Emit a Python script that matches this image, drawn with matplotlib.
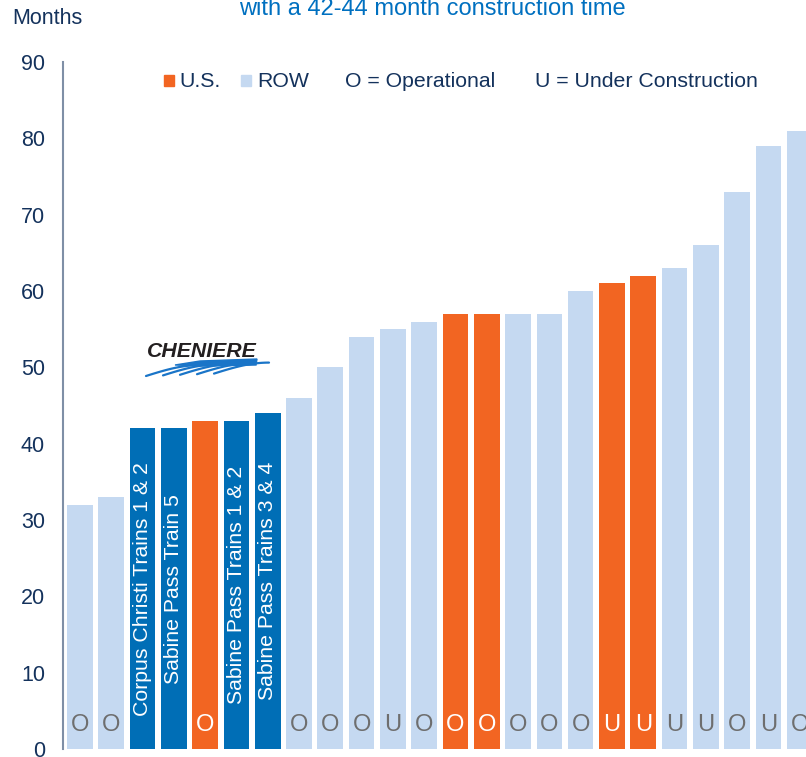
import numpy as np
import matplotlib
matplotlib.use("Agg")
import matplotlib.pyplot as plt
from matplotlib.patches import Rectangle, Polygon

plt.rcParams['font.family'] = ['Liberation Sans', 'DejaVu Sans']

# construction time in months, sorted ascending
months = [32, 33, 42, 42, 43, 43, 44, 46, 50, 54, 55, 56,
          57, 57, 57, 57, 60, 61, 62, 63, 66, 73, 79, 81]
group = ['ROW', 'ROW', 'LNG', 'LNG', 'US', 'LNG', 'LNG', 'ROW', 'ROW', 'ROW', 'ROW', 'ROW',
         'US', 'US', 'ROW', 'ROW', 'ROW', 'US', 'US', 'ROW', 'ROW', 'ROW', 'ROW', 'ROW']
status = ['O', 'O', '', '', 'O', '', '', 'O', 'O', 'O', 'U', 'O',
          'O', 'O', 'O', 'O', 'O', 'U', 'U', 'U', 'U', 'O', 'U', 'O']
project = {2: 'Corpus Christi Trains 1 & 2', 3: 'Sabine Pass Train 5',
           5: 'Sabine Pass Trains 1 & 2', 6: 'Sabine Pass Trains 3 & 4'}
yticks = [0, 10, 20, 30, 40, 50, 60, 70, 80, 90]

colors = {'ROW': '#C5D9F1', 'US': '#F26522', 'LNG': '#006EB6'}
navy = '#14325C'

W, H = 806, 757
fig = plt.figure(figsize=(W / 100, H / 100), dpi=100)
ax = fig.add_axes([63 / W, 1 - 749 / H, 1 - 63 / W, (749 - 62) / H])

x = np.arange(len(months))
ax.bar(x, months, width=0.82, color=[colors[g] for g in group], zorder=2)

for i, (v, s, g) in enumerate(zip(months, status, group)):
    if s:
        ax.text(i, 3.2, s, ha='center', va='center', fontsize=17,
                color='white' if g == 'US' else '#6E6E6E', zorder=3)
    if i in project:
        ax.text(i, v / 2, project[i], rotation=90, ha='center', va='center',
                fontsize=15.3, color='white', zorder=3)

ax.set_xlim(-0.54, 23.2)
ax.set_ylim(0, 90)
ax.set_yticks(yticks)
ax.set_xticks([])
ax.tick_params(axis='y', length=0, pad=13, labelsize=15.5, labelcolor=navy)
for side in ['top', 'right', 'bottom']:
    ax.spines[side].set_visible(False)
ax.spines['left'].set_color('#7F8FA6')
ax.spines['left'].set_linewidth(1.5)
ax.set_facecolor('none')

# overlay in pixel coordinates for title, legend and logo
ov = fig.add_axes([0, 0, 1, 1], zorder=5)
ov.set_xlim(0, W)
ov.set_ylim(H, 0)
ov.axis('off')
ov.patch.set_alpha(0)

ov.text(432, 15, 'with a 42-44 month construction time', ha='center', va='baseline',
        fontsize=17, color='#0070C0')
ov.text(12, 24, 'Months', ha='left', va='baseline', fontsize=15.5, color=navy)

# legend
ov.add_patch(Rectangle((164, 75), 10, 11, color=colors['US']))
ov.text(179, 87, 'U.S.', fontsize=15.3, color=navy, va='baseline')
ov.add_patch(Rectangle((241, 75), 10, 11, color=colors['ROW']))
ov.text(257, 87, 'ROW', fontsize=15.3, color=navy, va='baseline')
ov.text(345, 87, 'O = Operational', fontsize=15.3, color=navy, va='baseline')
ov.text(535, 87, 'U = Under Construction', fontsize=15.3, color=navy, va='baseline')

# Cheniere logo
ov.text(147, 357, 'CHENIERE', fontsize=15.3, fontweight='bold', fontstyle='italic',
        color='#231F20', va='baseline')
ov.add_patch(Polygon([(175, 365), (200, 361), (257, 359), (256, 365), (205, 366)],
                     closed=True, color='#1A75C8'))
for k in range(5):
    x0 = 146 + 17 * k
    t = np.linspace(0, 1, 30)
    xs = x0 + 55 * t
    ys = 376 - 11 * np.sin(t * np.pi / 2) - 0.6 * k
    ov.plot(xs, ys, color='#1A75C8', lw=1.6, solid_capstyle='round')

fig.savefig('out.png', dpi=100)
